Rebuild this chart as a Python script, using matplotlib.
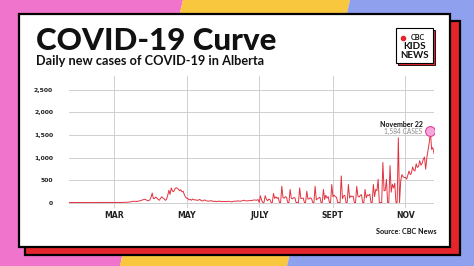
import numpy as np
import pandas as pd
import matplotlib
matplotlib.use("Agg")
import matplotlib.pyplot as plt
from matplotlib.patches import Polygon, Rectangle

# Daily new COVID-19 cases in Alberta (by report date)
start_date = "2020-01-23"
jan_feb = [0, 0, 0, 0, 0, 0, 0, 0, 0, 0,
           0, 0, 0, 0, 0, 0, 0, 0, 0, 0,
           0, 0, 0, 0, 0, 0, 0, 0, 0, 0,
           0, 0, 0, 0, 0, 0, 0, 0]
mar = [0, 0, 0, 0, 1, 0, 0, 1, 4, 7, 5, 4, 10, 10, 17, 23, 29, 23, 27, 22,
       33, 31, 40, 50, 57, 67, 72, 56, 42, 40, 59]
apr = [117, 210, 85, 91, 120, 96, 68, 50, 95, 127, 102, 82, 48, 70, 154,
       272, 180, 325, 254, 242, 300, 326, 320, 298, 260, 284, 240, 250, 175, 120]
may = [95, 90, 57, 70, 50, 77, 66, 54, 59, 46, 56, 70, 44, 33, 42, 58, 47,
       34, 29, 33, 36, 41, 25, 24, 30, 17, 28, 25, 31, 19, 22]
jun = [24, 22, 19, 23, 28, 20, 17, 15, 20, 29, 32, 28, 38, 32, 27, 33, 40,
       51, 44, 35, 36, 42, 39, 48, 44, 54, 56, 52, 50, 67]
jul = [0, 150, 52, 0, 0, 150, 78, 40, 73, 65, 0, 0, 200, 90, 125, 92, 113,
       0, 0, 360, 108, 97, 130, 114, 0, 0, 290, 96, 82, 110, 104]
aug = [0, 0, 0, 325, 87, 92, 99, 0, 0, 250, 76, 84, 104, 86, 0, 0, 360, 61,
       80, 101, 119, 0, 0, 290, 67, 164, 98, 129, 0, 0, 400]
sep = [130, 164, 126, 118, 0, 0, 0, 590, 86, 148, 158, 0, 0, 400, 102, 146,
       129, 139, 0, 0, 360, 143, 123, 158, 175, 0, 0, 290, 104, 170]
oct_ = [155, 184, 0, 0, 400, 130, 290, 264, 515, 0, 0, 0, 890, 260, 270, 515,
        0, 0, 820, 230, 406, 323, 427, 0, 0, 1440, 0, 480, 620, 572, 555]
nov = [560, 520, 610, 700, 620, 650, 790, 720, 700, 860, 780, 800, 930, 830,
       870, 960, 1010, 740, 1000, 1160, 1330, 1584, 1180, 1220, 1090]

cases = jan_feb + mar + apr + may + jun + jul + aug + sep + oct_ + nov
dates = pd.date_range(start_date, periods=len(cases), freq="D")

month_ticks = ["2020-03-01", "2020-05-01", "2020-07-01", "2020-09-01", "2020-11-01"]
month_labels = ["MAR", "MAY", "JULY", "SEPT", "NOV"]
y_ticks = [0, 500, 1000, 1500, 2000, 2500]
y_labels = ["0", "500", "1,000", "1,500", "2,000", "2,500"]

pink = "#f174cc"
yellow = "#f8c73e"
blue = "#8fa0ef"
red = "#e5252b"
line_red = "#e2323f"
head_font = ["Lato", "DejaVu Sans"]

fig = plt.figure(figsize=(4.74, 2.66), dpi=100)

# background and card, in pixel coordinates
bg = fig.add_axes([0, 0, 1, 1])
bg.set_xlim(0, 474)
bg.set_ylim(266, 0)
bg.axis("off")
bg.add_patch(Polygon([(0, 0), (183, 0), (120, 266), (0, 266)], color=pink, lw=0))
bg.add_patch(Polygon([(183, 0), (350, 0), (287, 266), (120, 266)], color=yellow, lw=0))
bg.add_patch(Polygon([(350, 0), (474, 0), (474, 266), (287, 266)], color=blue, lw=0))
bg.add_patch(Rectangle((25, 21), 435, 234, facecolor=red, edgecolor="black", lw=1.6))
bg.add_patch(Rectangle((19, 14), 431, 233, facecolor="white", edgecolor="black", lw=1.6))

bg.text(36, 50, "COVID-19 Curve", fontsize=22.5, fontweight="black", family=head_font,
        ha="left", va="baseline", color="#111111")
bg.text(36, 65, "Daily new cases of COVID-19 in Alberta", fontsize=9.2, fontweight="bold",
        family=head_font, ha="left", va="baseline", color="#111111")

# CBC Kids News logo
bg.add_patch(Rectangle((398, 30), 37, 35, facecolor=red, edgecolor="black", lw=0.6))
bg.add_patch(Rectangle((396, 28), 37, 35, facecolor="white", edgecolor="black", lw=0.8))
bg.plot([403], [37.5], marker="o", ms=3.0, color=red)
bg.text(417.5, 37.5, "CBC", fontsize=5.2, fontweight="bold", family=head_font,
        ha="center", va="center", color="#111111")
bg.text(414.5, 46.5, "KIDS", fontsize=7.2, fontweight="bold", family=head_font,
        ha="center", va="center", color="#111111")
bg.text(414.5, 55.5, "NEWS", fontsize=7.0, fontweight="bold", family=head_font,
        ha="center", va="center", color="#111111")

bg.text(437, 232, "Source: CBC News", fontsize=5.2, fontweight="bold", family=head_font,
        ha="right", va="center", color="#111111")

# chart
ax = fig.add_axes([69 / 474, (266 - 208) / 266, 365 / 474, 132 / 266])
ax.set_facecolor("none")
ax.plot(dates, cases, color=line_red, lw=0.7, zorder=2)
ax.set_xlim(dates[0], dates[-1])
ax.set_ylim(-122, 2811)
ax.set_yticks(y_ticks)
ax.set_yticklabels(y_labels)
ax.set_xticks(pd.to_datetime(month_ticks))
ax.set_xticklabels(month_labels)
ax.grid(True, color="#cfcfcf", lw=0.7)
ax.set_axisbelow(True)
for s in ax.spines.values():
    s.set_visible(False)
ax.tick_params(length=0)
ax.tick_params(axis="y", pad=11.5)
ax.tick_params(axis="x", pad=2)
for lab in ax.get_xticklabels():
    lab.set_fontsize(5.6)
    lab.set_fontweight("bold")
    lab.set_color("#222222")
for lab in ax.get_yticklabels():
    lab.set_fontsize(4.4)
    lab.set_fontweight("bold")
    lab.set_color("#222222")

# highlight the peak
i = int(np.argmax(cases))
ax.scatter([dates[i]], [cases[i]], s=50, color="#f7a6da", edgecolor="#e2409c",
           lw=0.8, zorder=3)
ax.annotate("November 22", xy=(dates[i], cases[i]), xytext=(-8, 7),
            textcoords="offset pixels", ha="right", va="center", fontsize=5,
            fontweight="bold", family=head_font, color="#111111")
ax.annotate("1,584 CASES", xy=(dates[i], cases[i]), xytext=(-8, 0),
            textcoords="offset pixels", ha="right", va="center", fontsize=4.8,
            family=head_font, color="#8a8a8a")

fig.savefig("out.png", dpi=100)
